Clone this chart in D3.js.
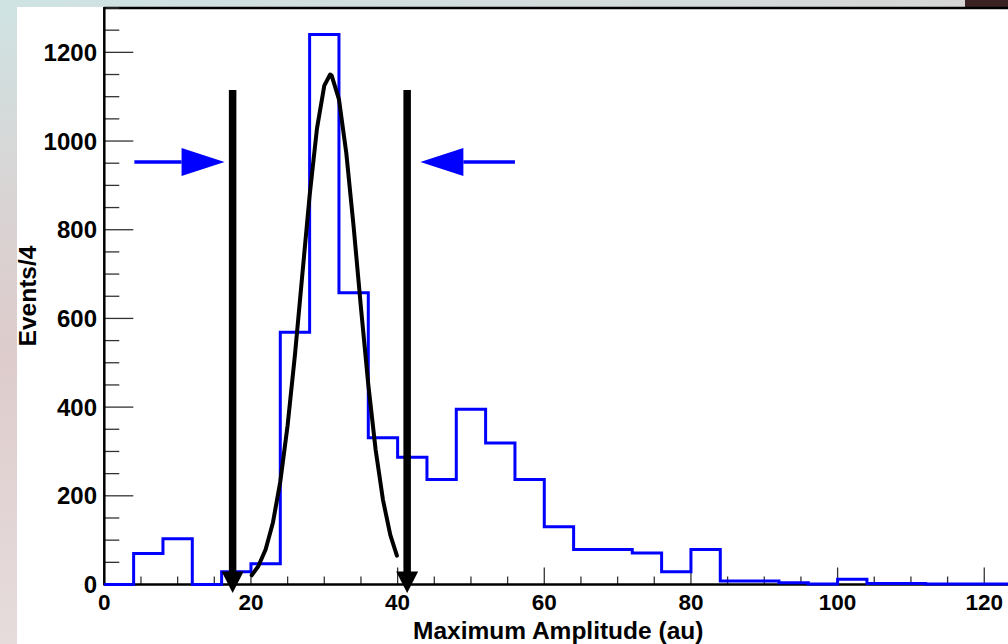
<!DOCTYPE html>
<html>
<head>
<meta charset="utf-8">
<script src="https://cdn.jsdelivr.net/npm/d3@7"></script>
<style>
  html, body { margin: 0; padding: 0; background: #ffffff; }
  svg { display: block; }
  text { font-family: "Liberation Sans", Arial, Helvetica, sans-serif; font-weight: bold; fill: #000; }
</style>
</head>
<body>
<svg id="chart" width="1008" height="644"></svg>
<script>
// Histogram of maximum amplitude, 4 au per bin
const binStarts = [0, 4, 8, 12, 16, 20, 24, 28, 32, 36, 40, 44, 48, 52, 56, 60,
                   64, 68, 72, 76, 80, 84, 88, 92, 96, 100, 104, 108, 112, 116, 120, 124];
const binWidth = 4;
const counts = [0, 70, 103, 0, 29, 47, 569, 1240, 658, 331, 287, 237, 395, 319, 237, 130,
                79, 79, 71, 29, 79, 8, 8, 4, 1, 12, 2, 2, 1, 1, 1, 1];

// Peak fit drawn over the signal region
const fitX = [20.1, 21, 22, 23, 24, 25, 26, 27, 28, 29, 30, 30.8, 31, 32, 33, 34, 35, 36, 37, 38, 39, 39.9];
const fitY = [21, 41, 79, 140, 232, 359, 518, 698, 877, 1028, 1125, 1150, 1148, 1094, 973, 807, 624, 451, 304, 191, 112, 65];

// Selection window: cut positions and the arrows pointing at them
const cutValues = [17.5, 41.3];
const cutTop = 1115;
const arrowFrom = [4.1, 56.0];
const arrowTo = [16.4, 43.1];
const arrowLevel = 953;

// Axis ticks
const xTickValues = [0, 20, 40, 60, 80, 100, 120];
const xMinorValues = d3.range(0, 129, 5);
const yTickValues = [0, 200, 400, 600, 800, 1000, 1200];
const yMinorValues = d3.range(0, 1301, 50);

const xTitle = "Maximum Amplitude (au)";
const yTitle = "Events/4";

const svg = d3.select("#chart");

// ---- page background ----
const defs = svg.append("defs");
const gLeft = defs.append("linearGradient").attr("id", "leftBand")
  .attr("x1", 0).attr("y1", 0).attr("x2", 0).attr("y2", 1);
gLeft.append("stop").attr("offset", "0%").attr("stop-color", "#cfe3e3");
gLeft.append("stop").attr("offset", "30%").attr("stop-color", "#d9d4d4");
gLeft.append("stop").attr("offset", "55%").attr("stop-color", "#decccc");
gLeft.append("stop").attr("offset", "100%").attr("stop-color", "#e6dcdc");
const gTop = defs.append("linearGradient").attr("id", "topBand")
  .attr("x1", 0).attr("y1", 0).attr("x2", 1).attr("y2", 0);
gTop.append("stop").attr("offset", "0%").attr("stop-color", "#cfe3e3");
gTop.append("stop").attr("offset", "100%").attr("stop-color", "#d6d6d6");

svg.append("rect").attr("x", 0).attr("y", 0).attr("width", 965).attr("height", 7).attr("fill", "url(#topBand)");
svg.append("rect").attr("x", 965).attr("y", 0).attr("width", 43).attr("height", 7).attr("fill", "#3a2222");
svg.append("rect").attr("x", 0).attr("y", 0).attr("width", 17).attr("height", 644).attr("fill", "url(#leftBand)");

// ---- scales ----
const x = d3.scaleLinear().domain([0, 128]).range([104.3, 104.3 + 128 * 7.333]);
const y = d3.scaleLinear().domain([0, 1300]).range([584.5, 8]);

// ---- frame ----
svg.append("line").attr("x1", x(0)).attr("x2", 1008).attr("y1", y(1300)).attr("y2", y(1300))
  .attr("stroke", "#000").attr("stroke-width", 2.5);

// ---- ticks (drawn inward) ----
const tickColor = "#333";
svg.append("g").selectAll("line").data(yMinorValues).join("line")
  .attr("x1", x(0)).attr("x2", d => x(0) + (yTickValues.includes(d) ? 29 : 15))
  .attr("y1", d => y(d)).attr("y2", d => y(d))
  .attr("stroke", tickColor).attr("stroke-width", 1.3);
svg.append("g").selectAll("line").data(xMinorValues).join("line")
  .attr("x1", d => x(d)).attr("x2", d => x(d))
  .attr("y1", y(0)).attr("y2", d => y(0) - (xTickValues.includes(d) ? 17 : 8))
  .attr("stroke", tickColor).attr("stroke-width", 1.3);

// ---- axis lines ----
svg.append("line").attr("x1", x(0)).attr("x2", x(0)).attr("y1", y(1300) - 1).attr("y2", y(0) + 1)
  .attr("stroke", "#000").attr("stroke-width", 2.5);
svg.append("line").attr("x1", x(0)).attr("x2", 1008).attr("y1", y(0)).attr("y2", y(0))
  .attr("stroke", "#000").attr("stroke-width", 2.5);

// ---- histogram outline ----
const hist = d3.path();
hist.moveTo(x(binStarts[0]), y(0));
binStarts.forEach((b, i) => {
  hist.lineTo(x(b), y(counts[i]));
  hist.lineTo(x(b + binWidth), y(counts[i]));
});
svg.append("path").attr("d", hist.toString())
  .attr("fill", "none").attr("stroke", "#0000ff").attr("stroke-width", 3)
  .attr("stroke-linejoin", "miter");

// ---- fit curve ----
const fitLine = d3.line().x(d => x(d[0])).y(d => y(d[1]));
svg.append("path").datum(fitX.map((v, i) => [v, fitY[i]]))
  .attr("d", fitLine)
  .attr("fill", "none").attr("stroke", "#000").attr("stroke-width", 4)
  .attr("stroke-linejoin", "round").attr("stroke-linecap", "round");

// ---- cut markers: thick vertical arrows ----
const cuts = svg.append("g");
cutValues.forEach(c => {
  const cx = x(c);
  cuts.append("line").attr("x1", cx).attr("x2", cx).attr("y1", y(cutTop)).attr("y2", y(0) - 10)
    .attr("stroke", "#000").attr("stroke-width", 7.5);
  cuts.append("path")
    .attr("d", `M${cx - 11},${y(0) - 13}L${cx + 11},${y(0) - 13}L${cx},${y(0) + 8.5}Z`)
    .attr("fill", "#000");
});

// ---- blue arrows pointing at the window ----
const arrows = svg.append("g");
arrowFrom.forEach((f, i) => {
  const x0 = x(f), x1 = x(arrowTo[i]);
  const dir = Math.sign(x1 - x0);
  const headLen = 43;
  const yy = y(arrowLevel);
  arrows.append("line").attr("x1", x0).attr("x2", x1 - dir * headLen).attr("y1", yy).attr("y2", yy)
    .attr("stroke", "#0000ff").attr("stroke-width", 3.5);
  arrows.append("path")
    .attr("d", `M${x1 - dir * headLen},${yy - 14}L${x1},${yy}L${x1 - dir * headLen},${yy + 14}Z`)
    .attr("fill", "#0000ff");
});

// ---- tick labels ----
svg.append("g").selectAll("text").data(yTickValues).join("text")
  .attr("x", 97).attr("y", d => y(d)).attr("dy", "0.36em")
  .attr("text-anchor", "end").attr("font-size", 24)
  .text(d => d);
svg.append("g").selectAll("text").data(xTickValues).join("text")
  .attr("x", d => x(d)).attr("y", 610)
  .attr("text-anchor", "middle").attr("font-size", 22.5)
  .text(d => d);

// ---- axis titles ----
svg.append("text").attr("x", 413).attr("y", 639)
  .attr("font-size", 24.5).text(xTitle);
svg.append("text")
  .attr("transform", "translate(36,296) rotate(-90)")
  .attr("text-anchor", "middle").attr("font-size", 24.5)
  .text(yTitle);
</script>
</body>
</html>
